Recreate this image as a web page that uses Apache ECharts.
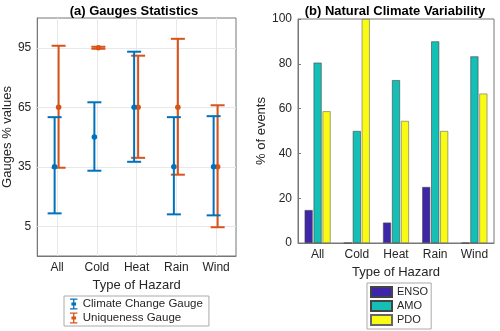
<!DOCTYPE html>
<html lang="en">
<head>
    <meta charset="UTF-8">
    <script src="https://cdn.jsdelivr.net/npm/echarts@6/dist/echarts.min.js"></script>
    <style>
        html, body { margin: 0; padding: 0; background: #fff; }
        #chart { width: 500px; height: 331px; }
    </style>
</head>
<body>
<div id="chart"></div>
<script>
    var hazards = ['All', 'Cold', 'Heat', 'Rain', 'Wind'];

    // (a) gauges: lower, centre, upper
    var ccLow  = [11.5, 33, 37.5, 11, 10.5];
    var ccMid  = [35, 50, 65, 35, 35];
    var ccHigh = [60, 67.5, 93, 60, 60.5];
    var uqLow  = [34.5, 94.5, 39.5, 31, 4.5];
    var uqMid  = [65, 95, 65, 65, 35];
    var uqHigh = [96, 95.5, 91, 99.5, 66];
    var gaugeTicks = [5, 35, 65, 95];

    // (b) % of events
    var enso = [14.7, 0, 9.1, 25, 0];
    var amo  = [80.5, 50, 72.7, 90, 83.3];
    var pdo  = [58.8, 100, 54.5, 50, 66.7];

    var font = "'Liberation Sans', Arial, Helvetica, sans-serif";
    var txt = '#262626';
    var axisCol = '#777';
    var gridCol = '#e8e8e8';

    function gaugeData(lo, mid, hi) {
        var out = [];
        for (var i = 0; i < hazards.length; i++) {
            out.push([i + 1, lo[i], mid[i], hi[i]]);
        }
        return out;
    }

    function errRender(offset, color) {
        return function (params, api) {
            var c = api.coord([api.value(0), api.value(2)]);
            var lo = api.coord([api.value(0), api.value(1)]);
            var hi = api.coord([api.value(0), api.value(3)]);
            var x = c[0] + offset;
            var st = { stroke: color, lineWidth: 2 };
            return {
                type: 'group',
                children: [
                    { type: 'line', shape: { x1: x, y1: lo[1], x2: x, y2: hi[1] }, style: st },
                    { type: 'line', shape: { x1: x - 7, y1: lo[1], x2: x + 7, y2: lo[1] }, style: st },
                    { type: 'line', shape: { x1: x - 7, y1: hi[1], x2: x + 7, y2: hi[1] }, style: st },
                    { type: 'circle', shape: { cx: x, cy: c[1], r: 2.8 }, style: { fill: color } }
                ]
            };
        };
    }

    // grid lines of panel (a) sit on the custom ticks
    var gridLines = [];
    gaugeTicks.forEach(function (v) { gridLines.push({ yAxis: v }); });
    hazards.forEach(function (h, i) { gridLines.push({ xAxis: i + 1 }); });

    var errIcon = 'path://M0,0h8v1.4h-8z M3.3,1.4h1.4v3h-1.4z M1.5,4.4h5v3h-5z M3.3,7.4h1.4v3h-1.4z M0,10.4h8v1.4h-8z';

    var chart = echarts.init(document.getElementById('chart'));
    var option = {
        animation: false,
        textStyle: { fontFamily: font, color: txt },
        title: [
            { text: '(a) Gauges Statistics', left: 129, top: 0, textAlign: 'center',
              textStyle: { fontSize: 13, fontWeight: 'bold', color: '#000', fontFamily: font } },
            { text: '(b) Natural Climate Variability', left: 390, top: 0, textAlign: 'center',
              textStyle: { fontSize: 13, fontWeight: 'bold', color: '#000', fontFamily: font } }
        ],
        grid: [
            { left: 37, top: 18, right: 264, bottom: 75, show: true, borderColor: axisCol, borderWidth: 1 },
            { left: 298, top: 19, right: 6, bottom: 88, show: true, borderColor: axisCol, borderWidth: 1 }
        ],
        legend: [
            {
                orient: 'vertical', left: 64, top: 296,
                itemWidth: 8, itemHeight: 11, itemGap: 2, padding: [2, 6, 2, 6],
                borderColor: '#aaa', borderWidth: 1, backgroundColor: '#fff',
                textStyle: { fontSize: 11.5, color: txt, fontFamily: font },
                data: [
                    { name: 'Climate Change Gauge', icon: errIcon },
                    { name: 'Uniqueness Gauge', icon: errIcon }
                ]
            },
            {
                orient: 'vertical', left: 367, top: 283, height: 48,
                itemWidth: 21, itemHeight: 10, itemGap: 0, padding: [2, 3, 2, 3],
                borderColor: '#aaa', borderWidth: 1, icon: 'rect',
                textStyle: { fontSize: 11, color: txt, fontFamily: font, lineHeight: 14 },
                data: ['ENSO', 'AMO', 'PDO']
            }
        ],
        xAxis: [
            {
                type: 'value', gridIndex: 0, min: 0.5, max: 5.5,
                name: 'Type of Hazard', nameLocation: 'middle', nameGap: 20,
                nameTextStyle: { fontSize: 13, color: txt },
                axisLine: { onZero: false, lineStyle: { color: axisCol } },
                axisTick: { inside: true, length: 3, customValues: [1, 2, 3, 4, 5], lineStyle: { color: axisCol } },
                axisLabel: { customValues: [1, 2, 3, 4, 5], fontSize: 12, color: txt, margin: 6,
                    formatter: function (v) { return hazards[Math.round(v) - 1]; } },
                splitLine: { show: false }
            },
            {
                type: 'category', gridIndex: 1, data: hazards,
                name: 'Type of Hazard', nameLocation: 'middle', nameGap: 20,
                nameTextStyle: { fontSize: 13, color: txt },
                axisLine: { lineStyle: { color: axisCol } },
                axisTick: { inside: true, length: 3, alignWithLabel: true, lineStyle: { color: axisCol } },
                axisLabel: { fontSize: 12, color: txt, margin: 6 }
            }
        ],
        yAxis: [
            {
                type: 'value', gridIndex: 0, min: -10, max: 110,
                name: 'Gauges % values', nameLocation: 'middle', nameGap: 18, nameRotate: 90,
                nameTextStyle: { fontSize: 13, color: txt },
                axisLine: { show: true, onZero: false, lineStyle: { color: axisCol } },
                axisTick: { show: true, inside: true, length: 3, customValues: gaugeTicks, lineStyle: { color: axisCol } },
                axisLabel: { customValues: gaugeTicks, fontSize: 12, color: txt, margin: 6 },
                splitLine: { show: false }
            },
            {
                type: 'value', gridIndex: 1, min: 0, max: 100, interval: 20,
                name: '% of events', nameLocation: 'middle', nameGap: 22, nameRotate: 90,
                nameTextStyle: { fontSize: 13, color: txt },
                axisLine: { show: true, lineStyle: { color: axisCol } },
                axisTick: { show: true, inside: true, length: 3, lineStyle: { color: axisCol } },
                axisLabel: { fontSize: 12, color: txt, margin: 6 },
                splitLine: { show: false }
            }
        ],
        series: [
            {
                name: 'grid', type: 'line', xAxisIndex: 0, yAxisIndex: 0, data: [], z: 0,
                silent: true,
                markLine: {
                    silent: true, symbol: 'none', label: { show: false }, z: 1,
                    lineStyle: { color: gridCol, type: 'solid', width: 1 },
                    data: gridLines
                }
            },
            {
                name: 'Climate Change Gauge', type: 'custom', xAxisIndex: 0, yAxisIndex: 0,
                itemStyle: { color: '#0072bd' },
                renderItem: errRender(-2.5, '#0072bd'),
                data: gaugeData(ccLow, ccMid, ccHigh), z: 4
            },
            {
                name: 'Uniqueness Gauge', type: 'custom', xAxisIndex: 0, yAxisIndex: 0,
                itemStyle: { color: '#d95319' },
                renderItem: errRender(1.5, '#d95319'),
                data: gaugeData(uqLow, uqMid, uqHigh), z: 3
            },
            {
                name: 'ENSO', type: 'bar', xAxisIndex: 1, yAxisIndex: 1, data: enso,
                barWidth: 8, barGap: '12%',
                itemStyle: { color: '#3e26a8', borderColor: '#444', borderWidth: 0.6 }
            },
            {
                name: 'AMO', type: 'bar', xAxisIndex: 1, yAxisIndex: 1, data: amo,
                barWidth: 8, barGap: '12%',
                itemStyle: { color: '#14bfb5', borderColor: '#444', borderWidth: 0.6 }
            },
            {
                name: 'PDO', type: 'bar', xAxisIndex: 1, yAxisIndex: 1, data: pdo,
                barWidth: 8, barGap: '12%',
                itemStyle: { color: '#f9fb15', borderColor: '#666', borderWidth: 0.6 }
            }
        ]
    };
    chart.setOption(option);
</script>
</body>
</html>
